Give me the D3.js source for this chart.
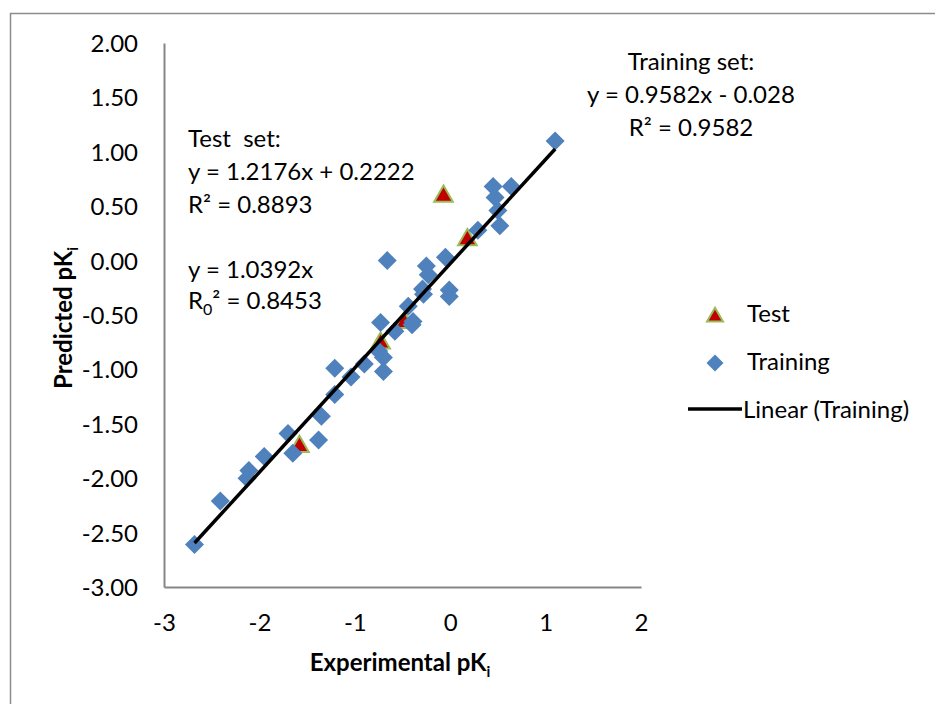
<!DOCTYPE html>
<html>
<head>
<meta charset="utf-8">
<script src="https://cdn.jsdelivr.net/npm/d3@7/dist/d3.min.js"></script>
<style>
  html, body { margin: 0; padding: 0; background: #fff; }
  svg { display: block; }
  text { font-family: "Lato", "Open Sans", sans-serif; fill: #000; }
</style>
</head>
<body>
<svg id="chart" width="935" height="704"></svg>
<script>
// Training set (experimental, predicted pKi)
const trainExp = [-2.68, -2.41, -2.13, -2.11, -1.95, -1.70, -1.65, -1.38, -1.35, -1.21,
  -1.21, -1.04, -0.90, -0.75, -0.70, -0.70, -0.73, -0.66, -0.58, -0.44,
  -0.40, -0.39, -0.29, -0.28, -0.25, -0.23, -0.05, -0.01, -0.01, 0.29,
  0.45, 0.64, 0.47, 0.50, 0.52, 1.10];
const trainPred = [-2.61, -2.21, -2.00, -1.93, -1.80, -1.59, -1.77, -1.65, -1.43, -1.23,
  -0.99, -1.07, -0.95, -0.83, -0.89, -1.02, -0.57, 0.00, -0.65, -0.42,
  -0.59, -0.56, -0.26, -0.31, -0.05, -0.13, 0.03, -0.27, -0.33, 0.28,
  0.68, 0.68, 0.58, 0.46, 0.32, 1.10];

// Test set (experimental, predicted pKi)
const testExp = [-0.07, 0.18, -0.48, -0.73, -1.58];
const testPred = [0.60, 0.20, -0.56, -0.75, -1.70];

// Linear fit of the training set: y = slope * x + intercept
const trainSlope = 0.9582;
const trainIntercept = -0.028;

// Axis ticks
const xTicks = [-3, -2, -1, 0, 1, 2];
const yTicks = [2.0, 1.5, 1.0, 0.5, 0.0, -0.5, -1.0, -1.5, -2.0, -2.5, -3.0];

const svg = d3.select("#chart");
const FS = 24;
const hyphen = (f) => (d) => f(d).replace("\u2212", "-");

// chart area frame
svg.append("rect")
  .attr("x", 10.5).attr("y", 13.5)
  .attr("width", 960).attr("height", 720)
  .attr("fill", "none").attr("stroke", "#8c8c8c").attr("stroke-width", 1.5);

const x = d3.scaleLinear().domain([-3, 2]).range([164, 641]);
const y = d3.scaleLinear().domain([-3, 2]).range([587, 43]);

// axes (lines only, no tick marks)
const xAxis = svg.append("g").attr("transform", `translate(0,${y(-3)})`)
  .call(d3.axisBottom(x).tickValues(xTicks).tickSize(0).tickPadding(0).tickFormat(hyphen(d3.format("d"))));
xAxis.select(".domain").attr("stroke", "#868686").attr("stroke-width", 2);
xAxis.selectAll(".tick text").attr("font-size", FS).attr("dy", null).attr("y", 44)
  .style("font-family", "Lato, 'Open Sans', sans-serif").attr("fill", "#000");

const yAxis = svg.append("g").attr("transform", `translate(${x(-3)},0)`)
  .call(d3.axisLeft(y).tickValues(yTicks).tickSize(0).tickPadding(0).tickFormat(hyphen(d3.format(".2f"))));
yAxis.select(".domain").attr("stroke", "#868686").attr("stroke-width", 2);
yAxis.selectAll(".tick text").attr("font-size", FS).attr("dy", "0.35em").attr("x", -26)
  .style("font-family", "Lato, 'Open Sans', sans-serif").attr("fill", "#000");

// marker shapes
const tri = d3.symbol().type(d3.symbolTriangle).size(150);
const dia = (s) => `M0,${-s}L${s},0L0,${s}L${-s},0Z`;

// test points (drawn first, training on top)
svg.append("g").selectAll("path")
  .data(testExp.map((v, i) => [v, testPred[i]]))
  .join("path")
  .attr("d", tri)
  .attr("transform", d => `translate(${x(d[0])},${y(d[1]) + 1})`)
  .attr("fill", "#c00000").attr("stroke", "#9bbb59").attr("stroke-width", 2);

// training points
svg.append("g").selectAll("path")
  .data(trainExp.map((v, i) => [v, trainPred[i]]))
  .join("path")
  .attr("d", dia(9.5))
  .attr("transform", d => `translate(${x(d[0])},${y(d[1])})`)
  .attr("fill", "#4f81bd");

// trendline over the training range
const xMin = d3.min(trainExp), xMax = d3.max(trainExp);
svg.append("line")
  .attr("x1", x(xMin)).attr("y1", y(trainSlope * xMin + trainIntercept))
  .attr("x2", x(xMax)).attr("y2", y(trainSlope * xMax + trainIntercept))
  .attr("stroke", "#000").attr("stroke-width", 3.5);

// axis titles
const xt = svg.append("text").attr("x", 400).attr("y", 671)
  .attr("text-anchor", "middle").attr("font-size", 24).attr("font-weight", "bold");
xt.append("tspan").text("Experimental pK");
xt.append("tspan").attr("font-size", 15).attr("dy", 6).text("i");

const yt = svg.append("text")
  .attr("transform", "translate(72,318) rotate(-90)")
  .attr("text-anchor", "middle").attr("font-size", 24).attr("font-weight", "bold");
yt.append("tspan").text("Predicted pK");
yt.append("tspan").attr("font-size", 15).attr("dy", 6).text("i");

// training-set equation
const trainLines = ["Training set:", "y = 0.9582x - 0.028", "R² = 0.9582"];
svg.append("g").selectAll("text").data(trainLines).join("text")
  .attr("x", 691).attr("y", (d, i) => 70 + i * 33)
  .attr("text-anchor", "middle").attr("font-size", FS).text(d => d);

// test-set equations
const testLines = ["Test  set:", "y = 1.2176x + 0.2222", "R² = 0.8893"];
svg.append("g").selectAll("text").data(testLines).join("text")
  .attr("x", 188).attr("y", (d, i) => 147 + i * 33)
  .attr("font-size", FS).style("white-space", "pre").text(d => d);
svg.append("text").attr("x", 188).attr("y", 278).attr("font-size", FS).text("y = 1.0392x");
const r0 = svg.append("text").attr("x", 188).attr("y", 309).attr("font-size", FS);
r0.append("tspan").text("R");
r0.append("tspan").attr("font-size", 16).attr("dy", 6).text("0");
r0.append("tspan").attr("dy", -6).text("² = 0.8453");

// legend
const lg = svg.append("g");
lg.append("path").attr("d", d3.symbol().type(d3.symbolTriangle).size(110))
  .attr("transform", "translate(715,317)")
  .attr("fill", "#c00000").attr("stroke", "#9bbb59").attr("stroke-width", 2);
lg.append("text").attr("x", 747).attr("y", 322).attr("font-size", FS).text("Test");
lg.append("path").attr("d", dia(8.5)).attr("transform", "translate(715,363)").attr("fill", "#4f81bd");
lg.append("text").attr("x", 747).attr("y", 370).attr("font-size", FS).text("Training");
lg.append("line").attr("x1", 688).attr("x2", 742).attr("y1", 409).attr("y2", 409)
  .attr("stroke", "#000").attr("stroke-width", 3.5);
lg.append("text").attr("x", 743).attr("y", 418).attr("font-size", FS).text("Linear (Training)");
</script>
</body>
</html>
